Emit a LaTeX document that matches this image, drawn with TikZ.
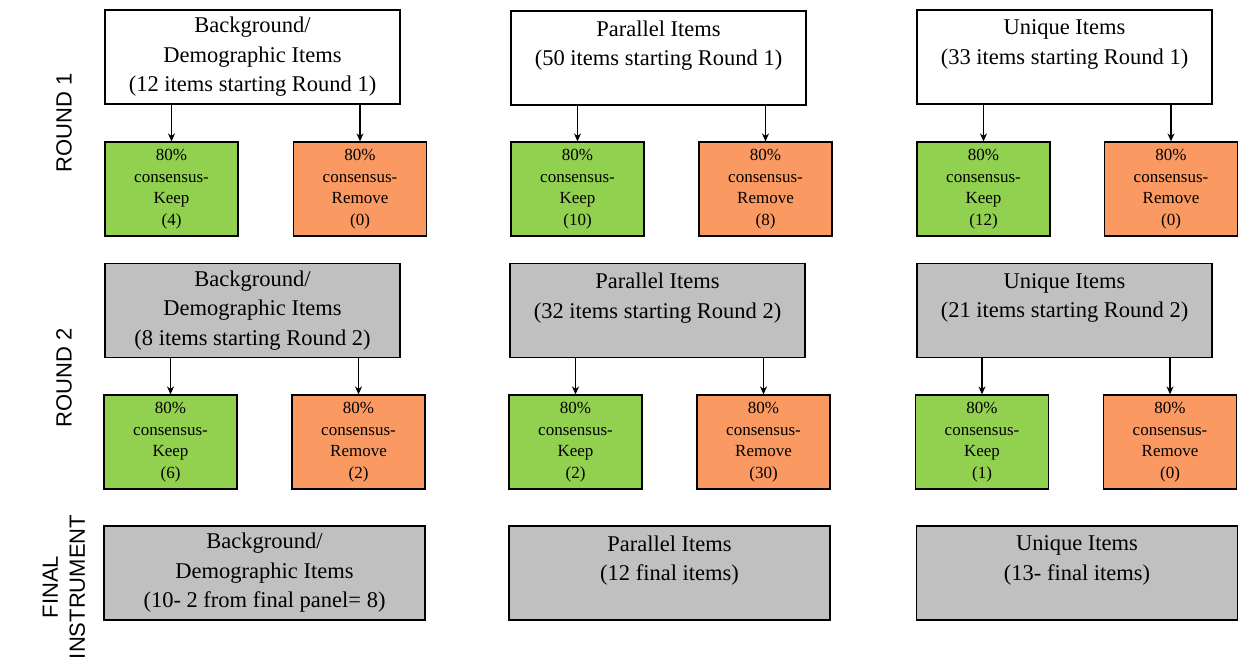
\documentclass[tikz,border=0pt]{standalone}
\usepackage{fontspec}
\setmainfont{Liberation Serif}
\newfontfamily\labelfont{Liberation Sans}
\usetikzlibrary{arrows.meta}
\definecolor{keepgreen}{HTML}{92D050}
\definecolor{removeorange}{HTML}{FA9A62}
\definecolor{boxgray}{HTML}{C0C0C0}
\tikzset{
  bigbox/.style={draw=black, line width=1.2pt, minimum width=295pt, minimum height=94pt, align=center, inner sep=0pt, font=\fontsize{22.5}{29.5}\selectfont},
  finalbox/.style={bigbox, fill=boxgray, minimum width=321pt},
  smallbox/.style={draw=black, line width=1.2pt, minimum width=133pt, minimum height=94pt, align=center, inner sep=0pt, font=\fontsize{17}{21.5}\selectfont},
  keepbox/.style={smallbox, fill=keepgreen},
  removebox/.style={smallbox, fill=removeorange},
  sidelabel/.style={rotate=90, align=center, font=\labelfont\fontsize{22}{27}\selectfont},
  arr/.style={-{Stealth[length=8pt,width=7pt]}, line width=1.3pt}
}
\begin{document}
\begin{tikzpicture}[x=1pt,y=-1pt]
\useasboundingbox (0,0) rectangle (1248,668);
% side labels
\node[sidelabel] (lr1) at (64,123) {ROUND 1};
\node[sidelabel] (lr2) at (64,378) {ROUND 2};
\node[sidelabel] (lfi) at (64,587) {FINAL\\INSTRUMENT};
% Round 1 top boxes
\node[bigbox, fill=white] (a1) at (252.5,57) {Background/\\Demographic Items\\(12 items starting Round 1)};
\node[bigbox, fill=white] (b1) at (658.5,58) {Parallel Items\\(50 items starting Round 1)\\~};
\node[bigbox, fill=white] (c1) at (1064.5,57) {Unique Items\\(33 items starting Round 1)\\~};
% Round 1 small boxes
\node[keepbox] (a1k) at (171.5,189) {80\%\\consensus-\\Keep\\(4)};
\node[removebox] (a1r) at (360,189) {80\%\\consensus-\\Remove\\(0)};
\node[keepbox] (b1k) at (577.5,189) {80\%\\consensus-\\Keep\\(10)};
\node[removebox] (b1r) at (765.5,189) {80\%\\consensus-\\Remove\\(8)};
\node[keepbox] (c1k) at (983.5,189) {80\%\\consensus-\\Keep\\(12)};
\node[removebox] (c1r) at (1171,189) {80\%\\consensus-\\Remove\\(0)};
% Round 2 top boxes
\node[bigbox, fill=boxgray] (a2) at (252.5,310.5) {Background/\\Demographic Items\\(8 items starting Round 2)};
\node[bigbox, fill=boxgray] (b2) at (657.5,310.5) {Parallel Items\\(32 items starting Round 2)\\~};
\node[bigbox, fill=boxgray] (c2) at (1064.5,310.5) {Unique Items\\(21 items starting Round 2)\\~};
% Round 2 small boxes
\node[keepbox] (a2k) at (170.5,442) {80\%\\consensus-\\Keep\\(6)};
\node[removebox] (a2r) at (358.5,442) {80\%\\consensus-\\Remove\\(2)};
\node[keepbox] (b2k) at (575.5,442) {80\%\\consensus-\\Keep\\(2)};
\node[removebox] (b2r) at (763.5,442) {80\%\\consensus-\\Remove\\(30)};
\node[keepbox] (c2k) at (982,442) {80\%\\consensus-\\Keep\\(1)};
\node[removebox] (c2r) at (1170,442) {80\%\\consensus-\\Remove\\(0)};
% Final boxes
\node[finalbox] (af) at (264.5,573) {Background/\\Demographic Items\\(10- 2 from final panel= 8)};
\node[finalbox] (bf) at (669.5,573) {Parallel Items\\(12 final items)\\~};
\node[finalbox] (cf) at (1077,573) {Unique Items\\(13- final items)\\~};
% arrows
\foreach \t/\k in {a1/a1k,a1/a1r,b1/b1k,b1/b1r,c1/c1k,c1/c1r,a2/a2k,a2/a2r,b2/b2k,b2/b2r,c2/c2k,c2/c2r}
  \draw[arr] (\t.south -| \k.north) -- (\k.north);
\end{tikzpicture}
\end{document}
